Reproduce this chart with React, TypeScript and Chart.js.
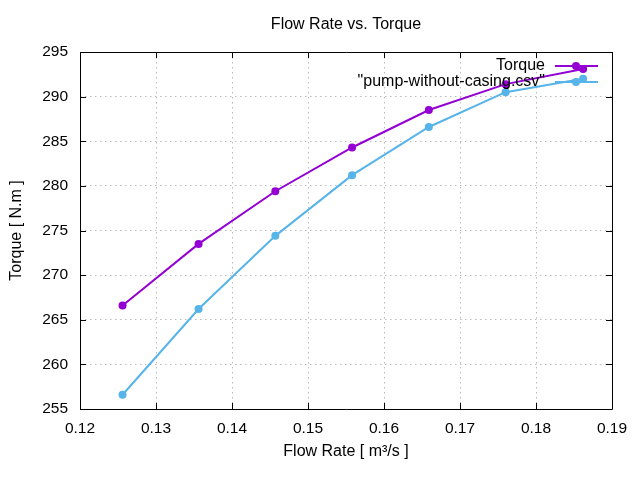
import React, { useEffect, useRef } from "react";
import { Chart, registerables } from "chart.js";

Chart.register(...registerables);

const flowRate = [0.1256, 0.1356, 0.1457, 0.1558, 0.1659, 0.176, 0.1862];
const torqueValues = [266.6, 273.5, 279.4, 284.3, 288.5, 291.4, 293.1];
const csvValues = [256.6, 266.2, 274.4, 281.2, 286.6, 290.5, 292.0];
const seriesNames = ["Torque", '"pump-without-casing.csv"'];
const seriesColors = ["#9400d3", "#56b4e9"];
const xTickValues = [0.12, 0.13, 0.14, 0.15, 0.16, 0.17, 0.18, 0.19];
const yTickValues = [255, 260, 265, 270, 275, 280, 285, 290, 295];
const chartTitle = "Flow Rate vs. Torque";
const xAxisTitle = "Flow Rate [ m³/s ]";
const yAxisTitle = "Torque [ N.m ]";

const FONT = '"Liberation Sans", Arial, sans-serif';
const TEXT_SIZE = 16;
const TICK_SIZE = 15.5;

const framePlugin = {
  id: "gnuFrame",
  beforeDatasetsDraw(chart: any) {
    const { ctx, chartArea } = chart;
    const xs = chart.scales.x;
    const ys = chart.scales.y;
    const { left, right, top, bottom } = chartArea;
    ctx.save();
    ctx.strokeStyle = "#000";
    ctx.lineWidth = 1;
    ctx.beginPath();
    ctx.rect(Math.round(left) + 0.5, Math.round(top) + 0.5, Math.round(right - left), Math.round(bottom - top));
    ctx.stroke();
    const tl = 6;
    ctx.beginPath();
    xTickValues.forEach((v) => {
      const px = Math.round(xs.getPixelForValue(v)) + 0.5;
      ctx.moveTo(px, bottom);
      ctx.lineTo(px, bottom - tl);
      ctx.moveTo(px, top);
      ctx.lineTo(px, top + tl);
    });
    yTickValues.forEach((v) => {
      const py = Math.round(ys.getPixelForValue(v)) + 0.5;
      ctx.moveTo(left, py);
      ctx.lineTo(left + tl, py);
      ctx.moveTo(right, py);
      ctx.lineTo(right - tl, py);
    });
    ctx.stroke();
    ctx.restore();
  },
  afterDatasetsDraw(chart: any) {
    const { ctx, chartArea } = chart;
    const { left, right, top, bottom } = chartArea;
    ctx.save();
    ctx.fillStyle = "#000";
    ctx.font = `${TEXT_SIZE}px ${FONT}`;
    ctx.textAlign = "center";
    ctx.textBaseline = "middle";
    ctx.fillText(chartTitle, (left + right) / 2, 25);
    ctx.fillText(xAxisTitle, (left + right) / 2, 452);
    ctx.save();
    ctx.translate(17, (top + bottom) / 2);
    ctx.rotate(-Math.PI / 2);
    ctx.fillText(yAxisTitle, 0, 0);
    ctx.restore();
    const textRight = 545;
    const sx0 = 555;
    const sx1 = 598;
    seriesNames.forEach((name, i) => {
      const y = 66 + i * 16;
      ctx.fillStyle = "#000";
      ctx.textAlign = "right";
      ctx.fillText(name, textRight, y);
      ctx.strokeStyle = seriesColors[i];
      ctx.lineWidth = 2;
      ctx.beginPath();
      ctx.moveTo(sx0, y);
      ctx.lineTo(sx1, y);
      ctx.stroke();
      ctx.fillStyle = seriesColors[i];
      ctx.beginPath();
      ctx.arc(576, y, 4, 0, Math.PI * 2);
      ctx.fill();
    });
    ctx.restore();
  },
};

export default function App() {
  const canvasRef = useRef<HTMLCanvasElement | null>(null);

  useEffect(() => {
    if (!canvasRef.current) return;
    Chart.defaults.font.family = FONT;
    Chart.defaults.color = "#000";
    const chart = new Chart(canvasRef.current, {
      type: "line",
      data: {
        datasets: [
          {
            label: seriesNames[0],
            data: flowRate.map((x, i) => ({ x, y: torqueValues[i] })),
            borderColor: seriesColors[0],
            backgroundColor: seriesColors[0],
            borderWidth: 2,
            pointRadius: 4,
            pointBorderWidth: 0,
            tension: 0,
          },
          {
            label: seriesNames[1],
            data: flowRate.map((x, i) => ({ x, y: csvValues[i] })),
            borderColor: seriesColors[1],
            backgroundColor: seriesColors[1],
            borderWidth: 2,
            pointRadius: 4,
            pointBorderWidth: 0,
            tension: 0,
          },
        ],
      },
      options: {
        responsive: false,
        animation: false,
        devicePixelRatio: 1,
        layout: { padding: { left: 0, right: 28, top: 52, bottom: 0 } },
        plugins: {
          legend: { display: false },
          title: { display: false },
          tooltip: { enabled: false },
        },
        scales: {
          x: {
            type: "linear",
            min: 0.12,
            max: 0.19,
            afterBuildTicks(scale: any) {
              scale.ticks = xTickValues.map((v) => ({ value: v }));
            },
            afterFit(scale: any) {
              scale.height = 71;
            },
            ticks: {
              padding: 10,
              maxRotation: 0,
              autoSkip: false,
              font: { size: TICK_SIZE, family: FONT },
              color: "#000",
              callback: (v: any) => Number(v).toFixed(2),
            },
            grid: { color: "#bbbbbb", lineWidth: 1, drawTicks: false },
            border: { display: false, dash: [1.5, 3.5] },
          },
          y: {
            type: "linear",
            min: 255,
            max: 295,
            afterBuildTicks(scale: any) {
              scale.ticks = yTickValues.map((v) => ({ value: v }));
            },
            afterFit(scale: any) {
              scale.width = 80;
            },
            ticks: {
              padding: 12,
              autoSkip: false,
              font: { size: TICK_SIZE, family: FONT },
              color: "#000",
              callback: (v: any) => String(Math.round(Number(v))),
            },
            grid: { color: "#bbbbbb", lineWidth: 1, drawTicks: false },
            border: { display: false, dash: [1.5, 3.5] },
          },
        },
      },
      plugins: [framePlugin],
    });
    return () => chart.destroy();
  }, []);

  return (
    <div style={{ position: "absolute", left: 0, top: 0, width: 640, height: 480, background: "#fff" }}>
      <canvas ref={canvasRef} width={640} height={480} />
    </div>
  );
}
